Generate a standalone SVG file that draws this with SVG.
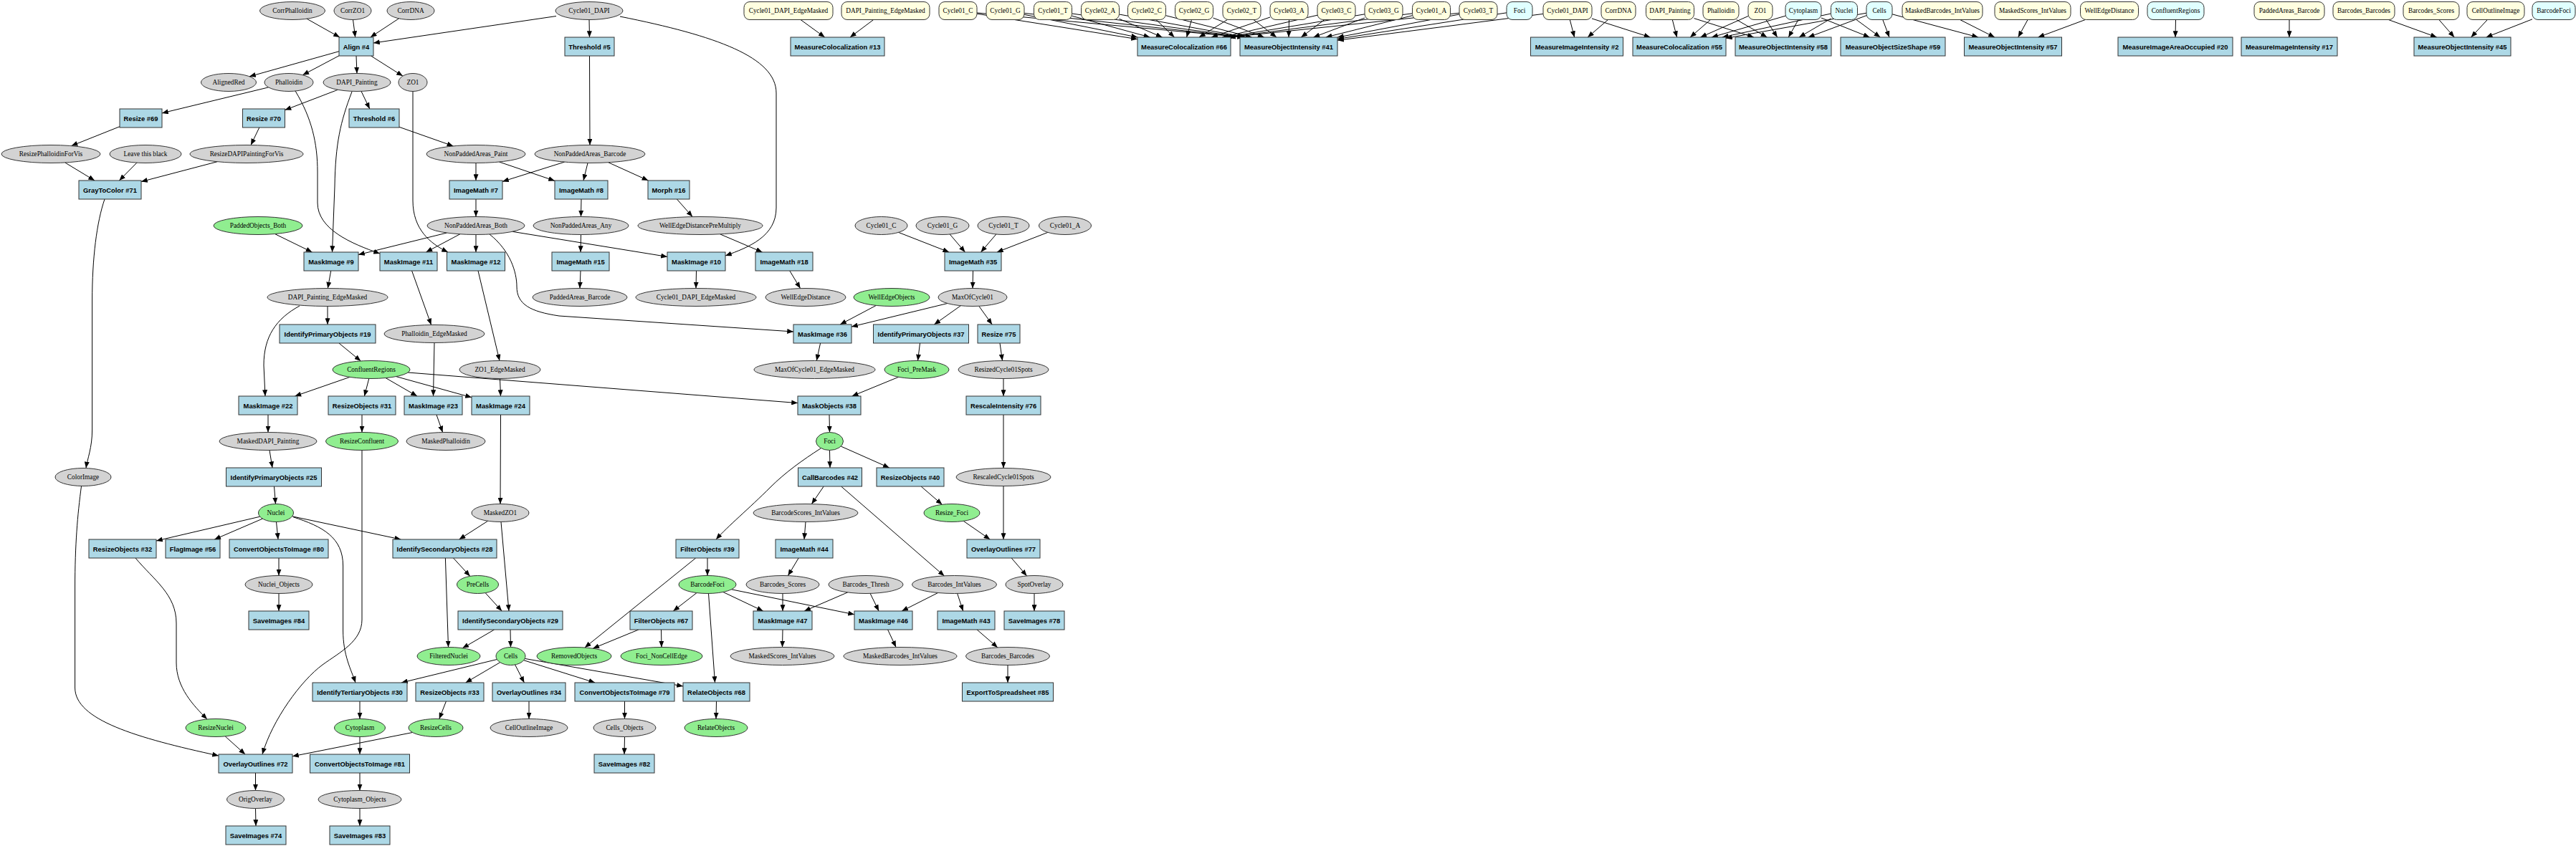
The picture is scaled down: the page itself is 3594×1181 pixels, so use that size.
<svg xmlns="http://www.w3.org/2000/svg" width="3594" height="1181" viewBox="0 0 3594 1181">
<style>
text{text-anchor:middle;dominant-baseline:central;fill:#000}
.p rect{fill:#add8e6;stroke:#333;stroke-width:1}
.p text{font-family:"Liberation Sans",Arial,sans-serif;font-weight:bold;font-size:9.4px}
.g ellipse{fill:#d3d3d3;stroke:#333;stroke-width:1}
.n ellipse{fill:#90ee90;stroke:#333;stroke-width:1}
.y rect{fill:#ffffe0;stroke:#333;stroke-width:1}
.c rect{fill:#e0ffff;stroke:#333;stroke-width:1}
.g text,.n text,.y text,.c text{font-family:"Liberation Serif","Times New Roman",serif;font-size:9.3px}
#edges path{fill:none;stroke:#000;stroke-width:1;marker-end:url(#a)}
</style>
<defs>
<marker id="a" viewBox="0 0 10 8" refX="10" refY="4" markerWidth="9" markerHeight="7" orient="auto" markerUnits="userSpaceOnUse"><path d="M0,0 L10,4 L0,8 z" fill="#000"/></marker>
</defs>
<rect width="3594" height="1181" fill="#fff"/>
<g id="edges">
<path d="M428,26.2 L473.9,52"/>
<path d="M492.5,27.5 L495.7,52"/>
<path d="M556.5,25.8 L516.8,52"/>
<path d="M776,22.5 L521,60"/>
<path d="M473,71.7 L348,106.8"/>
<path d="M473,77.8 L422.3,104.7"/>
<path d="M497,78 L498,102.5"/>
<path d="M517.5,78 L561.9,106.1"/>
<path d="M822,27.5 L822.5,52"/>
<path d="M865,23 C1000,50 1083,80 1083,130 L1083,290 C1083,330 1045,345 1012,357"/>
<path d="M1117,27.5 L1150.7,52"/>
<path d="M1218.7,27.5 L1186,52"/>
<path d="M374.6,121.9 L226,157.9"/>
<path d="M412,127 C435,165 443,200 443,240 L443,283 C443,320 490,340 530,354"/>
<path d="M471.3,125.3 L397.5,153.6"/>
<path d="M504,127.4 L515.8,152"/>
<path d="M491,128 C475,170 468,200 467,260 L463.5,352"/>
<path d="M576,127.5 L576,280 C576,320 600,340 625,352"/>
<path d="M557,177.3 L632.4,203.9"/>
<path d="M822.5,78 L823,202.5"/>
<path d="M167,176.7 L99.6,203.6"/>
<path d="M361.8,178 L350,202.5"/>
<path d="M90.8,227 L132,252"/>
<path d="M191,227.1 L166.4,252"/>
<path d="M303.2,225.7 L197,253.6"/>
<path d="M146,278 C135,310 128.6,360 128.6,420 L128.6,600 C128.6,625 122,640 120,653.5"/>
<path d="M664,227.5 L664,252"/>
<path d="M696.4,226 L774,252.4"/>
<path d="M787.7,226.1 L701,253.4"/>
<path d="M820,227.5 L814,252"/>
<path d="M848.9,226.8 L904.4,252"/>
<path d="M664,278 L664,302.5"/>
<path d="M811,278 L810.5,302.5"/>
<path d="M944.4,278 L966.1,302.6"/>
<path d="M623.5,325 L500,355.6"/>
<path d="M641.8,326.8 L594.4,352"/>
<path d="M664,327.5 L664,352"/>
<path d="M714.9,323.3 L931,358.4"/>
<path d="M683,327 C712,350 721,380 721,400 C721,425 740,435 780,441 L1107,463"/>
<path d="M810.5,327.5 L810,352"/>
<path d="M1004.7,326.9 L1063.6,352"/>
<path d="M383.6,326.6 L435.5,352"/>
<path d="M461.7,378 L457.3,402.5"/>
<path d="M574.6,378 L601.6,453.5"/>
<path d="M667,378 L697,503.5"/>
<path d="M810,378 L809,402.5"/>
<path d="M971.5,378 L971,402.5"/>
<path d="M1101.8,378 L1116.6,402.6"/>
<path d="M1253.6,324.4 L1324.2,352"/>
<path d="M1325.2,327 L1346.5,352"/>
<path d="M1389.8,327 L1368.5,352"/>
<path d="M1461.9,324.4 L1390.9,352"/>
<path d="M1357.5,378 L1357,402.5"/>
<path d="M457,427.5 L457,453"/>
<path d="M418,427 C385,445 368,470 368,510 L370,553"/>
<path d="M472.9,479 L503.3,504"/>
<path d="M488,526.4 L411.4,553"/>
<path d="M514.8,528.4 L508.4,553"/>
<path d="M538.1,527.6 L582,553"/>
<path d="M552.6,525.6 L658,554.8"/>
<path d="M569.2,520 L1113,562.6"/>
<path d="M606,478.5 L604.5,553"/>
<path d="M697.5,528.5 L698.5,553"/>
<path d="M374,579 L374,603.5"/>
<path d="M505,579 L505,603.5"/>
<path d="M609,579 L617.6,603.5"/>
<path d="M698.5,579 L698,703.5"/>
<path d="M376,628.5 L380,653"/>
<path d="M505,628.5 L505,865 C505,895 475,910 450,928 C420,950 380,1005 366,1053"/>
<path d="M382.5,679 L384.5,703.5"/>
<path d="M113.6,678 C108,720 104.6,760 104.6,820 L104.6,960 C104.6,1005 190,1030 305,1055"/>
<path d="M362.7,721.2 L218,755"/>
<path d="M366.3,724.1 L299.2,753"/>
<path d="M385.5,728.5 L388,753"/>
<path d="M407.6,720.8 L559.3,753"/>
<path d="M409,721.7 C450,735 478.6,750 478.6,790 L478.6,880 C478.6,915 490,935 496,953"/>
<path d="M680.6,727.3 L640.6,753"/>
<path d="M699,728.5 L710,853"/>
<path d="M632.5,779 L655.8,804.4"/>
<path d="M621.4,779 L625.5,903.5"/>
<path d="M677.1,827.6 L700.2,853"/>
<path d="M689.6,879 L645.3,904.8"/>
<path d="M712,879 L712.5,903.5"/>
<path d="M189,779 C215,810 246,830 246,870 L246,925 C246,960 270,985 289,1004"/>
<path d="M389,779 L389,803.5"/>
<path d="M389,828.5 L389,853"/>
<path d="M693.4,920.5 L560,953"/>
<path d="M697.7,924.7 L649.6,953"/>
<path d="M718.6,927.9 L731.4,953"/>
<path d="M730.7,921.7 L830.2,953"/>
<path d="M732.2,919.4 L953,957.9"/>
<path d="M502,979 L502,1003.5"/>
<path d="M622.4,979 L612.8,1003.6"/>
<path d="M738,979 L738,1003.5"/>
<path d="M871.5,979 L871.5,1003.5"/>
<path d="M999.5,979 L999,1003.5"/>
<path d="M871.5,1028.5 L871,1053"/>
<path d="M314.2,1027.9 L342.1,1053"/>
<path d="M575.5,1022.5 L408,1055.8"/>
<path d="M502,1028.5 L502,1053"/>
<path d="M356.5,1079 L356.5,1103.5"/>
<path d="M356.5,1128.5 L357,1153"/>
<path d="M502,1079 L502,1103.5"/>
<path d="M502,1128.5 L502,1153"/>
<path d="M1222.4,426.4 L1172.1,453"/>
<path d="M1321.9,423.5 L1188,456.1"/>
<path d="M1340.4,426.7 L1303.4,453"/>
<path d="M1365.8,427.3 L1384.2,453"/>
<path d="M1144.6,479 L1139.3,503.5"/>
<path d="M1283.5,479 L1280.5,503.5"/>
<path d="M1395,479 L1398.5,503.5"/>
<path d="M1253.7,526.3 L1188.7,553"/>
<path d="M1400,528.5 L1400,553"/>
<path d="M1157,579 L1157.5,603.5"/>
<path d="M1157.5,628.5 L1158,653"/>
<path d="M1173.2,623 L1240.8,653"/>
<path d="M1145,626 C1120,642 1095,660 1075,680 C1045,710 1015,735 999,753"/>
<path d="M1400,579 L1400,653.5"/>
<path d="M1149.2,679 L1132.4,703.6"/>
<path d="M1173.6,679 L1317.5,804"/>
<path d="M1285.1,679 L1314.4,704.3"/>
<path d="M1344.3,727.4 L1381.3,753"/>
<path d="M1400,678.5 L1400,753"/>
<path d="M1411.2,779 L1432.6,803.9"/>
<path d="M1124,728.5 L1122,753"/>
<path d="M1114.2,779 L1099.4,803.6"/>
<path d="M987,779 L987,803.5"/>
<path d="M970.7,779 L815.9,904"/>
<path d="M1443,828.5 L1443,853"/>
<path d="M972,827.6 L939.3,853"/>
<path d="M1008.9,826.5 L1064.7,853"/>
<path d="M1020.5,822.8 L1192,857.8"/>
<path d="M988.5,828.5 L997.5,953"/>
<path d="M1092,828.5 L1092,853"/>
<path d="M1182.7,826.9 L1122.2,853"/>
<path d="M1214.1,828.4 L1226.1,853"/>
<path d="M1308.7,827.5 L1258.2,853"/>
<path d="M1335.6,828.4 L1343.7,853"/>
<path d="M890.9,879 L827.2,905.2"/>
<path d="M922.5,879 L923,903.5"/>
<path d="M1092,879 L1091.5,903.5"/>
<path d="M1238.6,879 L1250.1,903.5"/>
<path d="M1363.1,879 L1391.9,903.9"/>
<path d="M1406,928.5 L1406,953"/>
<path d="M1363,19.2 L1587,54.7"/>
<path d="M1363,17.9 L1735,52"/>
<path d="M1429,20.3 L1587.1,52"/>
<path d="M1429,18.4 L1736,52"/>
<path d="M1495.5,22.2 L1604.4,52"/>
<path d="M1495.5,19 L1737,52"/>
<path d="M1561.5,26.3 L1621.6,52"/>
<path d="M1561.5,20 L1739,52"/>
<path d="M1613,27.5 L1638.5,52"/>
<path d="M1626.5,21.7 L1746.5,52"/>
<path d="M1662.5,27.5 L1655.6,52"/>
<path d="M1692.5,25 L1763.7,52"/>
<path d="M1712.4,27.5 L1672.9,52"/>
<path d="M1748.9,27.5 L1781,52"/>
<path d="M1772,24 L1690.1,52"/>
<path d="M1798.5,27.5 L1798,52"/>
<path d="M1838,21.2 L1705,52"/>
<path d="M1847.9,27.5 L1815.3,52"/>
<path d="M1904,19.8 L1710,52"/>
<path d="M1904,25 L1832.5,52"/>
<path d="M1970.5,18.8 L1713,52"/>
<path d="M1970.5,21.7 L1849.7,52"/>
<path d="M2036,18.2 L1715,52"/>
<path d="M2036,20 L1866,52.1"/>
<path d="M2102,17.8 L1866,54.4"/>
<path d="M2153,19.4 L1866,56.3"/>
<path d="M2190.3,27.5 L2196.6,52"/>
<path d="M2221,25.9 L2302.4,52"/>
<path d="M2243.5,27.5 L2215.1,52"/>
<path d="M2333.3,27.5 L2339.6,52"/>
<path d="M2363.5,25.6 L2446.9,52"/>
<path d="M2386.5,27.5 L2358.1,52"/>
<path d="M2422.8,27.5 L2465.4,52"/>
<path d="M2439,22.5 L2372.4,52"/>
<path d="M2464,27.5 L2479.7,52"/>
<path d="M2491,22.2 L2388,52"/>
<path d="M2509,27.5 L2495.3,52"/>
<path d="M2541,25 L2608.5,52"/>
<path d="M2554.5,19 L2402.8,52"/>
<path d="M2554.5,25.9 L2510.1,52"/>
<path d="M2590,27.5 L2623.3,52"/>
<path d="M2604,18.2 L2408,53.4"/>
<path d="M2604,21.7 L2522.8,52"/>
<path d="M2626.8,27.5 L2636,52"/>
<path d="M2640,19.8 L2760,52"/>
<path d="M2734.6,27.5 L2782.9,52"/>
<path d="M2829.1,27.5 L2815.7,52"/>
<path d="M2909.4,27.5 L2843.5,52"/>
<path d="M3035.5,27.5 L3035,52"/>
<path d="M3194,27.5 L3194,52"/>
<path d="M3332.4,27.5 L3399.8,52"/>
<path d="M3402.9,27.5 L3424.2,52"/>
<path d="M3470.4,27.5 L3447.6,52"/>
<path d="M3533,26.8 L3468.7,52"/>
</g>
<g id="nodes">
<g id="corrphalloidin" class="g"><ellipse cx="408" cy="15" rx="45.5" ry="12.5"/><text x="408" y="15">CorrPhalloidin</text></g>
<g id="corrzo1" class="g"><ellipse cx="492" cy="15" rx="26" ry="12.5"/><text x="492" y="15">CorrZO1</text></g>
<g id="corrdna" class="g"><ellipse cx="573" cy="15" rx="33" ry="12.5"/><text x="573" y="15">CorrDNA</text></g>
<g id="cycle01dapi" class="g"><ellipse cx="822" cy="15" rx="47" ry="12.5"/><text x="822" y="15">Cycle01_DAPI</text></g>
<g id="in-cycle01dapiedgemasked" class="y"><rect x="1038" y="2.5" width="124" height="25" rx="8"/><text x="1100" y="15">Cycle01_DAPI_EdgeMasked</text></g>
<g id="in-dapipaintingedgemasked" class="y"><rect x="1174" y="2.5" width="123" height="25" rx="8"/><text x="1235.5" y="15">DAPI_Painting_EdgeMasked</text></g>
<g id="in-cycle01c" class="y"><rect x="1310" y="2.5" width="53" height="25" rx="8"/><text x="1336.5" y="15">Cycle01_C</text></g>
<g id="in-cycle01g" class="y"><rect x="1376" y="2.5" width="53" height="25" rx="8"/><text x="1402.5" y="15">Cycle01_G</text></g>
<g id="in-cycle01t" class="y"><rect x="1442.5" y="2.5" width="53" height="25" rx="8"/><text x="1469" y="15">Cycle01_T</text></g>
<g id="in-cycle02a" class="y"><rect x="1508.5" y="2.5" width="53" height="25" rx="8"/><text x="1535" y="15">Cycle02_A</text></g>
<g id="in-cycle02c" class="y"><rect x="1573.5" y="2.5" width="53" height="25" rx="8"/><text x="1600" y="15">Cycle02_C</text></g>
<g id="in-cycle02g" class="y"><rect x="1639.5" y="2.5" width="53" height="25" rx="8"/><text x="1666" y="15">Cycle02_G</text></g>
<g id="in-cycle02t" class="y"><rect x="1706" y="2.5" width="53" height="25" rx="8"/><text x="1732.5" y="15">Cycle02_T</text></g>
<g id="in-cycle03a" class="y"><rect x="1772" y="2.5" width="53" height="25" rx="8"/><text x="1798.5" y="15">Cycle03_A</text></g>
<g id="in-cycle03c" class="y"><rect x="1838" y="2.5" width="53" height="25" rx="8"/><text x="1864.5" y="15">Cycle03_C</text></g>
<g id="in-cycle03g" class="y"><rect x="1904" y="2.5" width="53" height="25" rx="8"/><text x="1930.5" y="15">Cycle03_G</text></g>
<g id="in-cycle01a" class="y"><rect x="1970.5" y="2.5" width="53" height="25" rx="8"/><text x="1997" y="15">Cycle01_A</text></g>
<g id="in-cycle03t" class="y"><rect x="2036" y="2.5" width="53" height="25" rx="8"/><text x="2062.5" y="15">Cycle03_T</text></g>
<g id="in-foci" class="c"><rect x="2102" y="2.5" width="36" height="25" rx="8"/><text x="2120" y="15">Foci</text></g>
<g id="in-cycle01dapi" class="y"><rect x="2153" y="2.5" width="68" height="25" rx="8"/><text x="2187" y="15">Cycle01_DAPI</text></g>
<g id="in-corrdna" class="y"><rect x="2234" y="2.5" width="48" height="25" rx="8"/><text x="2258" y="15">CorrDNA</text></g>
<g id="in-dapipainting" class="y"><rect x="2296.5" y="2.5" width="67" height="25" rx="8"/><text x="2330" y="15">DAPI_Painting</text></g>
<g id="in-phalloidin" class="y"><rect x="2376" y="2.5" width="50" height="25" rx="8"/><text x="2401" y="15">Phalloidin</text></g>
<g id="in-zo1" class="y"><rect x="2439" y="2.5" width="34" height="25" rx="8"/><text x="2456" y="15">ZO1</text></g>
<g id="in-cytoplasm" class="c"><rect x="2491" y="2.5" width="50" height="25" rx="8"/><text x="2516" y="15">Cytoplasm</text></g>
<g id="in-nuclei" class="c"><rect x="2554.5" y="2.5" width="37" height="25" rx="8"/><text x="2573" y="15">Nuclei</text></g>
<g id="in-cells" class="c"><rect x="2604" y="2.5" width="36" height="25" rx="8"/><text x="2622" y="15">Cells</text></g>
<g id="in-maskedbarcodesintvalues" class="y"><rect x="2654" y="2.5" width="112" height="25" rx="8"/><text x="2710" y="15">MaskedBarcodes_IntValues</text></g>
<g id="in-maskedscoresintvalues" class="y"><rect x="2783" y="2.5" width="106" height="25" rx="8"/><text x="2836" y="15">MaskedScores_IntValues</text></g>
<g id="in-welledgedistance" class="y"><rect x="2902.5" y="2.5" width="81" height="25" rx="8"/><text x="2943" y="15">WellEdgeDistance</text></g>
<g id="in-confluentregions" class="c"><rect x="2996" y="2.5" width="79" height="25" rx="8"/><text x="3035.5" y="15">ConfluentRegions</text></g>
<g id="in-paddedareasbarcode" class="y"><rect x="3145" y="2.5" width="98" height="25" rx="8"/><text x="3194" y="15">PaddedAreas_Barcode</text></g>
<g id="in-barcodesbarcodes" class="y"><rect x="3255" y="2.5" width="86" height="25" rx="8"/><text x="3298" y="15">Barcodes_Barcodes</text></g>
<g id="in-barcodesscores" class="y"><rect x="3353" y="2.5" width="78" height="25" rx="8"/><text x="3392" y="15">Barcodes_Scores</text></g>
<g id="in-celloutlineimage" class="y"><rect x="3442" y="2.5" width="80" height="25" rx="8"/><text x="3482" y="15">CellOutlineImage</text></g>
<g id="in-barcodefoci" class="c"><rect x="3533" y="2.5" width="60" height="25" rx="8"/><text x="3563" y="15">BarcodeFoci</text></g>

<g id="align4" class="p"><rect x="473" y="52" width="48" height="26"/><text x="497" y="65">Align #4</text></g>
<g id="threshold5" class="p"><rect x="788" y="52" width="69" height="26"/><text x="822.5" y="65">Threshold #5</text></g>
<g id="measurecoloc13" class="p"><rect x="1103" y="52" width="131" height="26"/><text x="1168.5" y="65">MeasureColocalization #13</text></g>
<g id="measurecoloc66" class="p"><rect x="1587" y="52" width="130" height="26"/><text x="1652" y="65">MeasureColocalization #66</text></g>
<g id="measureobjint41" class="p"><rect x="1730" y="52" width="136" height="26"/><text x="1798" y="65">MeasureObjectIntensity #41</text></g>
<g id="measureimgint2" class="p"><rect x="2135.5" y="52" width="129" height="26"/><text x="2200" y="65">MeasureImageIntensity #2</text></g>
<g id="measurecoloc55" class="p"><rect x="2278" y="52" width="130" height="26"/><text x="2343" y="65">MeasureColocalization #55</text></g>
<g id="measureobjint58" class="p"><rect x="2421" y="52" width="134" height="26"/><text x="2488" y="65">MeasureObjectIntensity #58</text></g>
<g id="measureobjsize59" class="p"><rect x="2568" y="52" width="146" height="26"/><text x="2641" y="65">MeasureObjectSizeShape #59</text></g>
<g id="measureobjint57" class="p"><rect x="2740.5" y="52" width="136" height="26"/><text x="2808.5" y="65">MeasureObjectIntensity #57</text></g>
<g id="measureareaocc20" class="p"><rect x="2955" y="52" width="160" height="26"/><text x="3035" y="65">MeasureImageAreaOccupied #20</text></g>
<g id="measureimgint17" class="p"><rect x="3127" y="52" width="134" height="26"/><text x="3194" y="65">MeasureImageIntensity #17</text></g>
<g id="measureobjint45" class="p"><rect x="3368" y="52" width="135" height="26"/><text x="3435.5" y="65">MeasureObjectIntensity #45</text></g>

<g id="alignedred" class="g"><ellipse cx="319" cy="115" rx="38.5" ry="12.5"/><text x="319" y="115">AlignedRed</text></g>
<g id="phalloidin" class="g"><ellipse cx="403" cy="115" rx="34" ry="12.5"/><text x="403" y="115">Phalloidin</text></g>
<g id="dapipainting" class="g"><ellipse cx="498" cy="115" rx="47" ry="12.5"/><text x="498" y="115">DAPI_Painting</text></g>
<g id="zo1" class="g"><ellipse cx="576" cy="115" rx="20" ry="12.5"/><text x="576" y="115">ZO1</text></g>

<g id="resize69" class="p"><rect x="167" y="152" width="59" height="26"/><text x="196.5" y="165">Resize #69</text></g>
<g id="resize70" class="p"><rect x="338.5" y="152" width="59" height="26"/><text x="368" y="165">Resize #70</text></g>
<g id="threshold6" class="p"><rect x="487" y="152" width="70" height="26"/><text x="522" y="165">Threshold #6</text></g>

<g id="resizephalloidinforvis" class="g"><ellipse cx="71" cy="215" rx="69" ry="12.5"/><text x="71" y="215">ResizePhalloidinForVis</text></g>
<g id="leavethisblack" class="g"><ellipse cx="203" cy="215" rx="50" ry="12.5"/><text x="203" y="215">Leave this black</text></g>
<g id="resizedapipaintingforvis" class="g"><ellipse cx="344" cy="215" rx="79" ry="12.5"/><text x="344" y="215">ResizeDAPIPaintingForVis</text></g>
<g id="nonpaddedareaspaint" class="g"><ellipse cx="664" cy="215" rx="69" ry="12.5"/><text x="664" y="215">NonPaddedAreas_Paint</text></g>
<g id="nonpaddedareasbarcode" class="g"><ellipse cx="823" cy="215" rx="77" ry="12.5"/><text x="823" y="215">NonPaddedAreas_Barcode</text></g>

<g id="graytocolor71" class="p"><rect x="110" y="252" width="87" height="26"/><text x="153.5" y="265">GrayToColor #71</text></g>
<g id="imagemath7" class="p"><rect x="627" y="252" width="74" height="26"/><text x="664" y="265">ImageMath #7</text></g>
<g id="imagemath8" class="p"><rect x="774" y="252" width="74" height="26"/><text x="811" y="265">ImageMath #8</text></g>
<g id="morph16" class="p"><rect x="904" y="252" width="58" height="26"/><text x="933" y="265">Morph #16</text></g>

<g id="paddedobjectsboth" class="n"><ellipse cx="360" cy="315" rx="62" ry="12.5"/><text x="360" y="315">PaddedObjects_Both</text></g>
<g id="nonpaddedareasboth" class="g"><ellipse cx="664" cy="315" rx="68" ry="12.5"/><text x="664" y="315">NonPaddedAreas_Both</text></g>
<g id="nonpaddedareasany" class="g"><ellipse cx="810.5" cy="315" rx="66.5" ry="12.5"/><text x="810.5" y="315">NonPaddedAreas_Any</text></g>
<g id="welledgedistancepremultiply" class="g"><ellipse cx="977" cy="315" rx="87" ry="12.5"/><text x="977" y="315">WellEdgeDistancePreMultiply</text></g>
<g id="cycle01c" class="g"><ellipse cx="1229.5" cy="315" rx="36.5" ry="12.5"/><text x="1229.5" y="315">Cycle01_C</text></g>
<g id="cycle01g" class="g"><ellipse cx="1315" cy="315" rx="37" ry="12.5"/><text x="1315" y="315">Cycle01_G</text></g>
<g id="cycle01t" class="g"><ellipse cx="1400" cy="315" rx="36" ry="12.5"/><text x="1400" y="315">Cycle01_T</text></g>
<g id="cycle01a" class="g"><ellipse cx="1486" cy="315" rx="36.5" ry="12.5"/><text x="1486" y="315">Cycle01_A</text></g>

<g id="maskimage9" class="p"><rect x="424" y="352" width="76" height="26"/><text x="462" y="365">MaskImage #9</text></g>
<g id="maskimage11" class="p"><rect x="530" y="352" width="80" height="26"/><text x="570" y="365">MaskImage #11</text></g>
<g id="maskimage12" class="p"><rect x="623.5" y="352" width="81" height="26"/><text x="664" y="365">MaskImage #12</text></g>
<g id="imagemath15" class="p"><rect x="770" y="352" width="80" height="26"/><text x="810" y="365">ImageMath #15</text></g>
<g id="maskimage10" class="p"><rect x="931" y="352" width="81" height="26"/><text x="971.5" y="365">MaskImage #10</text></g>
<g id="imagemath18" class="p"><rect x="1054" y="352" width="80" height="26"/><text x="1094" y="365">ImageMath #18</text></g>
<g id="imagemath35" class="p"><rect x="1318" y="352" width="79" height="26"/><text x="1357.5" y="365">ImageMath #35</text></g>

<g id="dapipaintingedgemasked" class="g"><ellipse cx="457" cy="415" rx="84" ry="12.5"/><text x="457" y="415">DAPI_Painting_EdgeMasked</text></g>
<g id="paddedareasbarcode" class="g"><ellipse cx="809" cy="415" rx="66" ry="12.5"/><text x="809" y="415">PaddedAreas_Barcode</text></g>
<g id="cycle01dapiedgemasked" class="g"><ellipse cx="971" cy="415" rx="84" ry="12.5"/><text x="971" y="415">Cycle01_DAPI_EdgeMasked</text></g>
<g id="welledgedistance" class="g"><ellipse cx="1124" cy="415" rx="56" ry="12.5"/><text x="1124" y="415">WellEdgeDistance</text></g>
<g id="welledgeobjects" class="n"><ellipse cx="1244" cy="415" rx="53" ry="12.5"/><text x="1244" y="415">WellEdgeObjects</text></g>
<g id="maxofcycle01" class="g"><ellipse cx="1357" cy="415" rx="48" ry="12.5"/><text x="1357" y="415">MaxOfCycle01</text></g>

<g id="identifyprimary19" class="p"><rect x="390" y="453" width="134" height="26"/><text x="457" y="466">IdentifyPrimaryObjects #19</text></g>
<g id="phalloidinedgemasked" class="g"><ellipse cx="606" cy="466" rx="70" ry="12.5"/><text x="606" y="466">Phalloidin_EdgeMasked</text></g>
<g id="maskimage36" class="p"><rect x="1107" y="453" width="81" height="26"/><text x="1147.5" y="466">MaskImage #36</text></g>
<g id="identifyprimary37" class="p"><rect x="1218.5" y="453" width="133" height="26"/><text x="1285" y="466">IdentifyPrimaryObjects #37</text></g>
<g id="resize75" class="p"><rect x="1364" y="453" width="59" height="26"/><text x="1393.5" y="466">Resize #75</text></g>

<g id="confluentregions" class="n"><ellipse cx="518" cy="516" rx="54" ry="12.5"/><text x="518" y="516">ConfluentRegions</text></g>
<g id="zo1edgemasked" class="g"><ellipse cx="697.5" cy="516" rx="56.5" ry="12.5"/><text x="697.5" y="516">ZO1_EdgeMasked</text></g>
<g id="maxofcycle01edgemasked" class="g"><ellipse cx="1136.5" cy="516" rx="84.5" ry="12.5"/><text x="1136.5" y="516">MaxOfCycle01_EdgeMasked</text></g>
<g id="focipremask" class="n"><ellipse cx="1279" cy="516" rx="45" ry="12.5"/><text x="1279" y="516">Foci_PreMask</text></g>
<g id="resizedcycle01spots" class="g"><ellipse cx="1400" cy="516" rx="63" ry="12.5"/><text x="1400" y="516">ResizedCycle01Spots</text></g>

<g id="maskimage22" class="p"><rect x="333" y="553" width="82" height="26"/><text x="374" y="566">MaskImage #22</text></g>
<g id="resizeobjects31" class="p"><rect x="458" y="553" width="94" height="26"/><text x="505" y="566">ResizeObjects #31</text></g>
<g id="maskimage23" class="p"><rect x="564" y="553" width="81" height="26"/><text x="604.5" y="566">MaskImage #23</text></g>
<g id="maskimage24" class="p"><rect x="658" y="553" width="81" height="26"/><text x="698.5" y="566">MaskImage #24</text></g>
<g id="maskobjects38" class="p"><rect x="1113" y="553" width="88" height="26"/><text x="1157" y="566">MaskObjects #38</text></g>
<g id="rescaleintensity76" class="p"><rect x="1348" y="553" width="104" height="26"/><text x="1400" y="566">RescaleIntensity #76</text></g>

<g id="maskeddapipainting" class="g"><ellipse cx="374" cy="616" rx="68" ry="12.5"/><text x="374" y="616">MaskedDAPI_Painting</text></g>
<g id="resizeconfluent" class="n"><ellipse cx="505" cy="616" rx="50.5" ry="12.5"/><text x="505" y="616">ResizeConfluent</text></g>
<g id="maskedphalloidin" class="g"><ellipse cx="622" cy="616" rx="55" ry="12.5"/><text x="622" y="616">MaskedPhalloidin</text></g>
<g id="foci" class="n"><ellipse cx="1157.5" cy="616" rx="19" ry="12.5"/><text x="1157.5" y="616">Foci</text></g>

<g id="colorimage" class="g"><ellipse cx="116" cy="666" rx="39" ry="12.5"/><text x="116" y="666">ColorImage</text></g>
<g id="identifyprimary25" class="p"><rect x="315.5" y="653" width="133" height="26"/><text x="382" y="666">IdentifyPrimaryObjects #25</text></g>
<g id="callbarcodes42" class="p"><rect x="1113.5" y="653" width="89" height="26"/><text x="1158" y="666">CallBarcodes #42</text></g>
<g id="resizeobjects40" class="p"><rect x="1223" y="653" width="94" height="26"/><text x="1270" y="666">ResizeObjects #40</text></g>
<g id="rescaledcycle01spots" class="g"><ellipse cx="1400" cy="666" rx="66" ry="12.5"/><text x="1400" y="666">RescaledCycle01Spots</text></g>

<g id="nuclei" class="n"><ellipse cx="385" cy="716" rx="24.5" ry="12.5"/><text x="385" y="716">Nuclei</text></g>
<g id="maskedzo1" class="g"><ellipse cx="698" cy="716" rx="40" ry="12.5"/><text x="698" y="716">MaskedZO1</text></g>
<g id="barcodescoresintvalues" class="g"><ellipse cx="1124" cy="716" rx="73" ry="12.5"/><text x="1124" y="716">BarcodeScores_IntValues</text></g>
<g id="resizefoci" class="n"><ellipse cx="1328" cy="716" rx="39" ry="12.5"/><text x="1328" y="716">Resize_Foci</text></g>

<g id="resizeobjects32" class="p"><rect x="124" y="753" width="94" height="26"/><text x="171" y="766">ResizeObjects #32</text></g>
<g id="flagimage56" class="p"><rect x="231" y="753" width="76" height="26"/><text x="269" y="766">FlagImage #56</text></g>
<g id="convertobjects80" class="p"><rect x="320" y="753" width="138" height="26"/><text x="389" y="766">ConvertObjectsToImage #80</text></g>
<g id="identifysecondary28" class="p"><rect x="548" y="753" width="145" height="26"/><text x="620.5" y="766">IdentifySecondaryObjects #28</text></g>
<g id="filterobjects39" class="p"><rect x="943" y="753" width="88" height="26"/><text x="987" y="766">FilterObjects #39</text></g>
<g id="imagemath44" class="p"><rect x="1082" y="753" width="80" height="26"/><text x="1122" y="766">ImageMath #44</text></g>
<g id="overlayoutlines77" class="p"><rect x="1349" y="753" width="102" height="26"/><text x="1400" y="766">OverlayOutlines #77</text></g>

<g id="nucleiobjects" class="g"><ellipse cx="389" cy="816" rx="47" ry="12.5"/><text x="389" y="816">Nuclei_Objects</text></g>
<g id="precells" class="n"><ellipse cx="666.5" cy="816" rx="29" ry="12.5"/><text x="666.5" y="816">PreCells</text></g>
<g id="barcodefoci" class="n"><ellipse cx="987" cy="816" rx="40" ry="12.5"/><text x="987" y="816">BarcodeFoci</text></g>
<g id="barcodesscores" class="g"><ellipse cx="1092" cy="816" rx="51" ry="12.5"/><text x="1092" y="816">Barcodes_Scores</text></g>
<g id="barcodesthresh" class="g"><ellipse cx="1208" cy="816" rx="52" ry="12.5"/><text x="1208" y="816">Barcodes_Thresh</text></g>
<g id="barcodesintvalues" class="g"><ellipse cx="1331.5" cy="816" rx="59" ry="12.5"/><text x="1331.5" y="816">Barcodes_IntValues</text></g>
<g id="spotoverlay" class="g"><ellipse cx="1443" cy="816" rx="40" ry="12.5"/><text x="1443" y="816">SpotOverlay</text></g>

<g id="saveimages84" class="p"><rect x="347" y="853" width="84" height="26"/><text x="389" y="866">SaveImages #84</text></g>
<g id="identifysecondary29" class="p"><rect x="639" y="853" width="146" height="26"/><text x="712" y="866">IdentifySecondaryObjects #29</text></g>
<g id="filterobjects67" class="p"><rect x="879" y="853" width="87" height="26"/><text x="922.5" y="866">FilterObjects #67</text></g>
<g id="maskimage47" class="p"><rect x="1051" y="853" width="82" height="26"/><text x="1092" y="866">MaskImage #47</text></g>
<g id="maskimage46" class="p"><rect x="1192" y="853" width="81" height="26"/><text x="1232.5" y="866">MaskImage #46</text></g>
<g id="imagemath43" class="p"><rect x="1308" y="853" width="80" height="26"/><text x="1348" y="866">ImageMath #43</text></g>
<g id="saveimages78" class="p"><rect x="1401" y="853" width="84" height="26"/><text x="1443" y="866">SaveImages #78</text></g>

<g id="filterednuclei" class="n"><ellipse cx="626" cy="916" rx="44" ry="12.5"/><text x="626" y="916">FilteredNuclei</text></g>
<g id="cells" class="n"><ellipse cx="712.5" cy="916" rx="20.5" ry="12.5"/><text x="712.5" y="916">Cells</text></g>
<g id="removedobjects" class="n"><ellipse cx="801" cy="916" rx="52" ry="12.5"/><text x="801" y="916">RemovedObjects</text></g>
<g id="focinoncelledge" class="n"><ellipse cx="923" cy="916" rx="57" ry="12.5"/><text x="923" y="916">Foci_NonCellEdge</text></g>
<g id="maskedscoresintvalues" class="g"><ellipse cx="1091.5" cy="916" rx="72.5" ry="12.5"/><text x="1091.5" y="916">MaskedScores_IntValues</text></g>
<g id="maskedbarcodesintvalues" class="g"><ellipse cx="1256" cy="916" rx="79" ry="12.5"/><text x="1256" y="916">MaskedBarcodes_IntValues</text></g>
<g id="barcodesbarcodes" class="g"><ellipse cx="1406" cy="916" rx="58.5" ry="12.5"/><text x="1406" y="916">Barcodes_Barcodes</text></g>

<g id="identifytertiary30" class="p"><rect x="436" y="953" width="132" height="26"/><text x="502" y="966">IdentifyTertiaryObjects #30</text></g>
<g id="resizeobjects33" class="p"><rect x="580" y="953" width="95" height="26"/><text x="627.5" y="966">ResizeObjects #33</text></g>
<g id="overlayoutlines34" class="p"><rect x="687" y="953" width="102" height="26"/><text x="738" y="966">OverlayOutlines #34</text></g>
<g id="convertobjects79" class="p"><rect x="802" y="953" width="139" height="26"/><text x="871.5" y="966">ConvertObjectsToImage #79</text></g>
<g id="relateobjects68" class="p"><rect x="953" y="953" width="93" height="26"/><text x="999.5" y="966">RelateObjects #68</text></g>
<g id="exporttospreadsheet85" class="p"><rect x="1342.5" y="953" width="127" height="26"/><text x="1406" y="966">ExportToSpreadsheet #85</text></g>

<g id="resizenuclei" class="n"><ellipse cx="301" cy="1016" rx="42" ry="12.5"/><text x="301" y="1016">ResizeNuclei</text></g>
<g id="cytoplasm" class="n"><ellipse cx="502" cy="1016" rx="35.5" ry="12.5"/><text x="502" y="1016">Cytoplasm</text></g>
<g id="resizecells" class="n"><ellipse cx="608" cy="1016" rx="38" ry="12.5"/><text x="608" y="1016">ResizeCells</text></g>
<g id="celloutlineimage" class="g"><ellipse cx="738" cy="1016" rx="54" ry="12.5"/><text x="738" y="1016">CellOutlineImage</text></g>
<g id="cellsobjects" class="g"><ellipse cx="871.5" cy="1016" rx="43.5" ry="12.5"/><text x="871.5" y="1016">Cells_Objects</text></g>
<g id="relateobjects" class="n"><ellipse cx="999" cy="1016" rx="44" ry="12.5"/><text x="999" y="1016">RelateObjects</text></g>

<g id="overlayoutlines72" class="p"><rect x="305" y="1053" width="103" height="26"/><text x="356.5" y="1066">OverlayOutlines #72</text></g>
<g id="convertobjects81" class="p"><rect x="432.5" y="1053" width="139" height="26"/><text x="502" y="1066">ConvertObjectsToImage #81</text></g>
<g id="saveimages82" class="p"><rect x="829" y="1053" width="84" height="26"/><text x="871" y="1066">SaveImages #82</text></g>

<g id="origoverlay" class="g"><ellipse cx="356.5" cy="1116" rx="40" ry="12.5"/><text x="356.5" y="1116">OrigOverlay</text></g>
<g id="cytoplasmobjects" class="g"><ellipse cx="502" cy="1116" rx="58" ry="12.5"/><text x="502" y="1116">Cytoplasm_Objects</text></g>

<g id="saveimages74" class="p"><rect x="315" y="1153" width="84" height="26"/><text x="357" y="1166">SaveImages #74</text></g>
<g id="saveimages83" class="p"><rect x="460" y="1153" width="84" height="26"/><text x="502" y="1166">SaveImages #83</text></g>
</g>
</svg>
